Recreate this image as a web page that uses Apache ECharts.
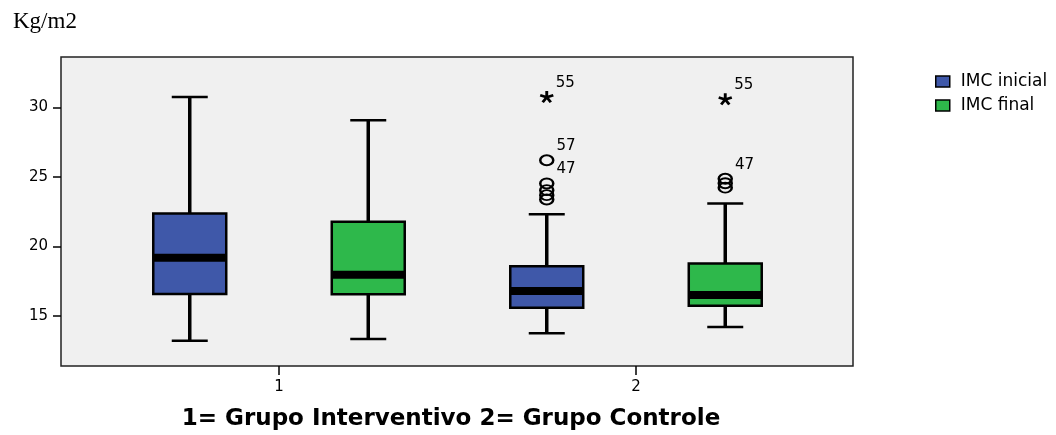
<!DOCTYPE html>
<html>
<head>
<meta charset="utf-8">
<script src="https://cdn.jsdelivr.net/npm/echarts@6/dist/echarts.min.js"></script>
<style>
  html, body { margin: 0; padding: 0; background: #fff; }
  #chart { width: 1056px; height: 435px; }
</style>
</head>
<body>
<div id="chart"></div>
<script>
// Group labels on the x axis
const categories = ['1', '2'];
// Box summaries per group: [min whisker, Q1, median, Q3, max whisker]
const imcInicial = [
  [13.22, 16.58, 19.19, 22.38, 30.76],
  [13.76, 15.60, 16.80, 18.59, 22.33]
];
const imcFinal = [
  [13.35, 16.56, 17.98, 21.78, 29.09],
  [14.21, 15.74, 16.51, 18.79, 23.10]
];
// Outliers: [group index, value, case number shown beside the point]
const outliersInicial = [[1, 26.21, '57'], [1, 24.54, '47'], [1, 24.06, ''], [1, 23.70, ''], [1, 23.39, '']];
const outliersFinal = [[1, 24.88, '47'], [1, 24.56, ''], [1, 24.24, '']];
// Extreme values (asterisks)
const extremesInicial = [[1, 30.76, '55']];
const extremesFinal = [[1, 30.60, '55']];
const yTicks = [15, 20, 25, 30];

const BLUE = '#3F58A9';
const GREEN = '#2EB84B';
const SANS = 'DejaVu Sans';
const SHIFT = 0.25;       // half distance between the two boxes of a group
const HALF_W = 0.1022;    // half box width (x units)
const CAP_W = 0.0504;     // half whisker cap width (x units)

// five-armed asterisk used for extreme values
function asteriskPath() {
  let d = '';
  const len = 10, w = 2.1;
  for (let k = 0; k < 5; k++) {
    const a = -Math.PI / 2 + k * 2 * Math.PI / 5;
    const ux = Math.cos(a), uy = Math.sin(a);
    const px = -uy * w, py = ux * w;
    const pts = [[px, py], [px + ux * len, py + uy * len], [-px + ux * len, -py + uy * len], [-px, -py]];
    d += 'M' + pts.map(p => (p[0] + 12).toFixed(2) + ' ' + (p[1] + 12).toFixed(2)).join(' L') + ' Z ';
  }
  return 'path://' + d;
}
const STAR = asteriskPath();

function boxData(arr, offset) {
  return arr.map((d, i) => [i + 1 + offset].concat(d));
}
function pointData(arr, offset) {
  return arr.map(d => [d[0] + 1 + offset, d[1], d[2]]);
}

function makeRenderer(fill) {
  return function (params, api) {
    const x = api.value(0);
    const mn = api.value(1), q1 = api.value(2), md = api.value(3), q3 = api.value(4), mx = api.value(5);
    const tl = api.coord([x - HALF_W, q3]);
    const br = api.coord([x + HALF_W, q1]);
    const mdL = api.coord([x - HALF_W, md]);
    const top = api.coord([x, mx]), bot = api.coord([x, mn]);
    const qTop = api.coord([x, q3]), qBot = api.coord([x, q1]);
    const capL = api.coord([x - CAP_W, mx])[0], capR = api.coord([x + CAP_W, mx])[0];
    const vStyle = { stroke: '#000', lineWidth: 3.5 };
    const hStyle = { stroke: '#000', lineWidth: 2.5 };
    return {
      type: 'group',
      children: [
        { type: 'line', shape: { x1: top[0], y1: top[1], x2: qTop[0], y2: qTop[1] }, style: vStyle },
        { type: 'line', shape: { x1: bot[0], y1: bot[1], x2: qBot[0], y2: qBot[1] }, style: vStyle },
        { type: 'line', shape: { x1: capL, y1: top[1], x2: capR, y2: top[1] }, style: hStyle },
        { type: 'line', shape: { x1: capL, y1: bot[1], x2: capR, y2: bot[1] }, style: hStyle },
        { type: 'rect', shape: { x: tl[0], y: tl[1], width: br[0] - tl[0], height: br[1] - tl[1] },
          style: { fill: fill, stroke: '#000', lineWidth: 2.5 } },
        { type: 'rect', shape: { x: mdL[0], y: mdL[1] - 4, width: br[0] - tl[0], height: 8 },
          style: { fill: '#000' } }
      ]
    };
  };
}

const pointLabel = {
  show: true,
  position: 'right',
  distance: 2,
  offset: [0, -14],
  formatter: p => p.data[2],
  fontFamily: SANS,
  fontSize: 15,
  color: '#000'
};

function outlierSeries(name, data) {
  return {
    name: name, type: 'scatter', data: data, symbol: 'circle', symbolSize: [13, 10],
    itemStyle: { color: 'rgba(0,0,0,0)', borderColor: '#000', borderWidth: 2.2, opacity: 1 },
    label: pointLabel, silent: true, z: 5
  };
}
function extremeSeries(name, data) {
  return {
    name: name, type: 'scatter', data: data, symbol: STAR, symbolSize: [14, 12],
    itemStyle: { color: '#000', opacity: 1 }, label: pointLabel, silent: true, z: 5
  };
}

const chart = echarts.init(document.getElementById('chart'), null, { renderer: 'canvas' });
chart.setOption({
  animation: false,
  backgroundColor: '#fff',
  title: [
    { text: 'Kg/m2', left: 8, top: 5,
      textStyle: { fontFamily: 'Liberation Serif', fontSize: 23, fontWeight: 'normal', color: '#000' } },
    { text: '1= Grupo Interventivo 2= Grupo Controle', left: 446, top: 403, textAlign: 'center',
      textStyle: { fontFamily: SANS, fontSize: 23, fontWeight: 'bold', color: '#000' } }
  ],
  legend: {
    data: ['IMC inicial', 'IMC final'],
    orient: 'vertical', left: 930, top: 68,
    icon: 'rect', itemWidth: 14, itemHeight: 11, itemGap: 7,
    itemStyle: { borderColor: '#000', borderWidth: 1.5 },
    textStyle: { fontFamily: SANS, fontSize: 17, color: '#000', padding: [0, 0, 0, 6] },
    selectedMode: false
  },
  grid: {
    left: 61, top: 57, width: 792, height: 309,
    show: true, backgroundColor: '#F0F0F0', borderColor: '#222', borderWidth: 1.5
  },
  xAxis: {
    type: 'value', min: 1 - 218 / 357, max: 2 + 217 / 357,
    axisLine: { show: false },
    splitLine: { show: false },
    axisTick: { show: true, customValues: [1, 2], length: 9, lineStyle: { color: '#000', width: 1.5 } },
    axisLabel: { customValues: [1, 2], formatter: v => categories[Math.round(v) - 1],
      margin: 14, fontFamily: SANS, fontSize: 15, color: '#000' }
  },
  yAxis: {
    type: 'value', min: 11.406, max: 33.64,
    axisLine: { show: false },
    splitLine: { show: false },
    axisTick: { show: true, customValues: yTicks, length: 8, lineStyle: { color: '#000', width: 1.5 } },
    axisLabel: { customValues: yTicks, margin: 13, fontFamily: SANS, fontSize: 15, color: '#000' }
  },
  series: [
    { name: 'IMC inicial', type: 'custom', data: boxData(imcInicial, -SHIFT),
      renderItem: makeRenderer(BLUE), itemStyle: { color: BLUE },
      encode: { x: 0, y: [1, 2, 3, 4, 5] }, silent: true },
    { name: 'IMC final', type: 'custom', data: boxData(imcFinal, SHIFT),
      renderItem: makeRenderer(GREEN), itemStyle: { color: GREEN },
      encode: { x: 0, y: [1, 2, 3, 4, 5] }, silent: true },
    outlierSeries('out-inicial', pointData(outliersInicial, -SHIFT)),
    outlierSeries('out-final', pointData(outliersFinal, SHIFT)),
    extremeSeries('ext-inicial', pointData(extremesInicial, -SHIFT)),
    extremeSeries('ext-final', pointData(extremesFinal, SHIFT))
  ]
});
</script>
</body>
</html>
